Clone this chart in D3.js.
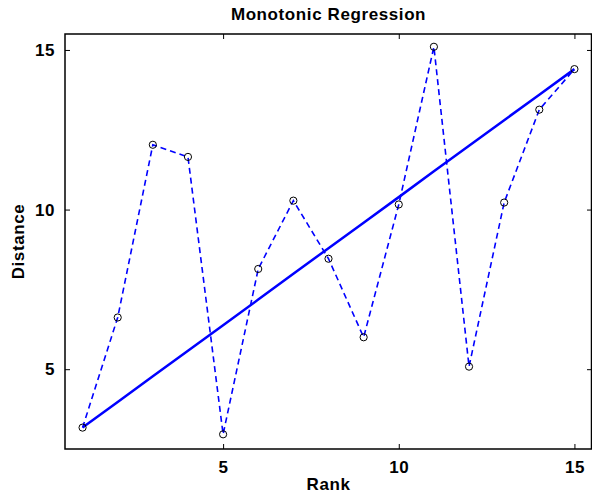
<!DOCTYPE html>
<html>
<head>
<meta charset="utf-8">
<script src="https://cdn.jsdelivr.net/npm/d3@7"></script>
<style>
  body { margin: 0; background: #fff; }
  text { font-family: "Liberation Sans", Arial, sans-serif; font-weight: bold; letter-spacing: 0.6px; }
</style>
</head>
<body>
<div class="canvas"></div>
<script>
const landScape = { width: 592, height: 494 };
const margin = { top: 34, right: 0, bottom: 45, left: 65 };
const graphWidth = landScape.width - margin.left - margin.right;
const graphHeight = landScape.height - margin.top - margin.bottom;

// data
const ranks = [1, 2, 3, 4, 5, 6, 7, 8, 9, 10, 11, 12, 13, 14, 15];
const distances = [3.17, 6.62, 12.03, 11.65, 2.96, 8.14, 10.28, 8.46, 6.0, 10.16, 15.1, 5.08, 10.22, 13.13, 14.4];
const fitted = [3.17, 3.97, 4.78, 5.58, 6.38, 7.18, 7.99, 8.79, 9.59, 10.39, 11.2, 12.0, 12.8, 13.6, 14.4];
const xTicks = [5, 10, 15];
const yTicks = [5, 10, 15];

const svg = d3.select(".canvas")
  .append("svg")
  .attr("width", landScape.width)
  .attr("height", landScape.height);

const graph = svg.append("g")
  .attr("transform", `translate(${margin.left}, ${margin.top})`);

//scales
const xScale = d3.scaleLinear().domain([0.5, 15.5]).range([0, graphWidth]);
const yScale = d3.scaleLinear().domain([2.5, 15.5]).range([graphHeight, 0]);

//axes (ticks inward, mirrored on top/right)
const axisStyle = g => {
  g.select(".domain").remove();
  g.selectAll(".tick line").attr("stroke", "#000");
  g.selectAll("text").attr("fill", "#000").style("font-size", "17px");
};
graph.append("g")
  .attr("transform", `translate(0, ${graphHeight})`)
  .call(d3.axisBottom(xScale).tickValues(xTicks).tickSizeInner(-5).tickPadding(12))
  .call(axisStyle);
graph.append("g")
  .call(d3.axisLeft(yScale).tickValues(yTicks).tickSizeInner(-5).tickPadding(10))
  .call(axisStyle);
graph.append("g")
  .call(d3.axisTop(xScale).tickValues(xTicks).tickSizeInner(-5).tickFormat(""))
  .call(axisStyle);
graph.append("g")
  .attr("transform", `translate(${graphWidth}, 0)`)
  .call(d3.axisRight(yScale).tickValues(yTicks).tickSizeInner(-5).tickFormat(""))
  .call(axisStyle);

graph.append("rect")
  .attr("width", graphWidth - 0.5)
  .attr("height", graphHeight)
  .attr("fill", "none")
  .attr("stroke", "#000")
  .attr("stroke-width", 1.5);

const points = ranks.map((r, i) => ({ rank: r, dist: distances[i], fit: fitted[i] }));

const line = d3.line().x(d => xScale(d.rank));

graph.append("path")
  .datum(points)
  .attr("d", line.y(d => yScale(d.fit)))
  .attr("fill", "none")
  .attr("stroke", "#0000ff")
  .attr("stroke-width", 2.5);

graph.append("path")
  .datum(points)
  .attr("d", d3.line().x(d => xScale(d.rank)).y(d => yScale(d.dist)))
  .attr("fill", "none")
  .attr("stroke", "#0000ff")
  .attr("stroke-width", 1.6)
  .attr("stroke-dasharray", "6,4");

graph.selectAll("circle")
  .data(points)
  .enter()
  .append("circle")
  .attr("cx", d => xScale(d.rank))
  .attr("cy", d => yScale(d.dist))
  .attr("r", 3.6)
  .attr("fill", "none")
  .attr("stroke", "#000")
  .attr("stroke-width", 1);

//labels
svg.append("text")
  .attr("x", margin.left + graphWidth / 2)
  .attr("y", 20)
  .attr("text-anchor", "middle")
  .style("font-size", "17px")
  .text("Monotonic Regression");

svg.append("text")
  .attr("x", margin.left + graphWidth / 2)
  .attr("y", 490)
  .attr("text-anchor", "middle")
  .style("font-size", "17px")
  .text("Rank");

svg.append("text")
  .attr("transform", `translate(24, ${margin.top + graphHeight / 2}) rotate(-90)`)
  .attr("text-anchor", "middle")
  .style("font-size", "17px")
  .text("Distance");
</script>
</body>
</html>
